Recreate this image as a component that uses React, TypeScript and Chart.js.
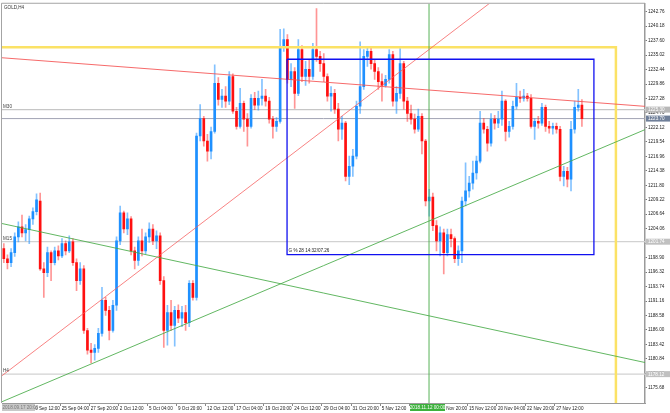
import React, { useEffect, useRef } from 'react';
import { Chart, registerables } from 'chart.js';

Chart.register(...registerables);

// ---- data (GOLD, H4; each candle below aggregates two H4 bars) ----
const opens = [
  1200.5, 1198.7, 1198.0, 1199.8, 1202.6, 1204.4, 1203.3, 1203.9, 1205.8, 1207.1,
  1209.0, 1196.9, 1196.2, 1199.8, 1198.0, 1200.1, 1199.2, 1201.4, 1200.1, 1201.7,
  1198.0, 1194.8, 1196.9, 1185.9, 1182.4, 1182.0, 1182.7, 1185.4, 1191.3, 1189.5,
  1185.9, 1190.4, 1201.9, 1206.9, 1204.0, 1205.8, 1200.1, 1198.4, 1201.9, 1200.1,
  1202.6, 1204.0, 1201.9, 1202.8, 1194.8, 1185.9, 1189.1, 1186.8, 1189.5, 1188.1,
  1189.1, 1187.3, 1194.3, 1191.8, 1220.6, 1223.7, 1219.7, 1217.9, 1221.4, 1230.0,
  1227.1, 1227.7, 1226.8, 1231.2, 1225.0, 1222.3, 1226.4, 1223.6, 1222.3, 1227.3,
  1226.1, 1227.3, 1227.7, 1226.8, 1223.6, 1222.3, 1223.2, 1236.5, 1237.8, 1230.7,
  1232.1, 1228.2, 1236.0, 1231.2, 1232.5, 1231.2, 1236.0, 1234.8, 1233.5, 1231.2,
  1227.7, 1228.2, 1225.4, 1221.8, 1222.9, 1213.4, 1215.2, 1217.0, 1225.9, 1229.4,
  1234.8, 1235.7, 1233.5, 1232.1, 1230.3, 1229.6, 1230.7, 1235.1, 1226.8, 1228.2,
  1233.5, 1226.8, 1224.6, 1223.6, 1221.8, 1224.1, 1219.7, 1209.0, 1209.7, 1204.6,
  1201.9, 1203.3, 1199.8, 1203.0, 1202.3, 1198.7, 1200.1, 1209.0, 1210.8, 1212.2,
  1214.0, 1216.1, 1222.9, 1221.8, 1219.3, 1223.6, 1222.9, 1223.6, 1226.8, 1221.4,
  1222.3, 1225.9, 1227.5, 1227.3, 1227.7, 1227.3, 1222.3, 1223.2, 1222.9, 1225.7,
  1222.3, 1222.0, 1222.3, 1221.8, 1213.4, 1214.3, 1212.9, 1221.8, 1225.7, 1226.1,
];
const highs = [
  1201.4, 1199.4, 1200.5, 1203.3, 1205.3, 1206.5, 1204.8, 1206.3, 1207.8, 1210.3,
  1210.4, 1198.0, 1200.8, 1200.1, 1200.8, 1201.0, 1202.3, 1201.9, 1202.8, 1202.3,
  1198.7, 1198.0, 1197.5, 1186.3, 1183.6, 1183.4, 1186.3, 1193.6, 1191.8, 1190.2,
  1191.3, 1202.6, 1208.1, 1207.2, 1206.9, 1206.2, 1200.8, 1202.6, 1204.0, 1203.3,
  1205.1, 1204.8, 1203.7, 1203.3, 1195.5, 1190.4, 1191.3, 1190.2, 1190.5, 1190.2,
  1190.4, 1194.8, 1194.8, 1221.1, 1226.2, 1224.1, 1220.9, 1222.2, 1233.3, 1231.0,
  1228.9, 1229.4, 1232.1, 1231.7, 1225.7, 1229.1, 1226.8, 1224.6, 1228.0, 1228.4,
  1228.6, 1230.7, 1228.9, 1227.5, 1224.1, 1223.9, 1239.6, 1239.7, 1238.7, 1233.5,
  1232.8, 1237.8, 1236.7, 1233.9, 1234.2, 1237.1, 1243.3, 1235.7, 1235.3, 1231.7,
  1229.4, 1228.9, 1226.4, 1224.1, 1223.2, 1217.0, 1218.2, 1226.8, 1237.4, 1236.0,
  1236.5, 1236.4, 1234.2, 1232.8, 1231.7, 1231.4, 1236.0, 1235.7, 1229.4, 1236.2,
  1233.9, 1227.5, 1226.1, 1224.5, 1225.4, 1224.6, 1220.0, 1211.1, 1210.4, 1205.5,
  1204.4, 1204.0, 1204.0, 1204.0, 1202.6, 1201.0, 1209.7, 1215.8, 1213.4, 1216.1,
  1217.0, 1225.0, 1223.7, 1222.3, 1224.6, 1224.3, 1225.0, 1228.6, 1227.1, 1223.2,
  1226.8, 1230.0, 1228.6, 1228.9, 1228.2, 1228.0, 1223.7, 1224.1, 1226.4, 1226.1,
  1223.2, 1222.9, 1222.9, 1222.3, 1215.2, 1215.0, 1223.2, 1226.8, 1228.9, 1227.1,
];
const lows = [
  1198.0, 1196.9, 1197.3, 1199.1, 1201.7, 1202.6, 1201.9, 1201.4, 1204.8, 1206.5,
  1196.6, 1191.8, 1195.5, 1194.8, 1197.6, 1198.5, 1198.9, 1199.4, 1199.8, 1197.5,
  1193.0, 1194.1, 1185.4, 1181.7, 1180.1, 1180.6, 1182.0, 1184.9, 1188.6, 1184.2,
  1185.6, 1189.5, 1201.2, 1203.3, 1203.0, 1199.4, 1196.9, 1197.5, 1199.2, 1199.6,
  1201.6, 1201.2, 1200.5, 1194.1, 1182.9, 1183.3, 1185.9, 1183.1, 1187.3, 1186.6,
  1185.9, 1186.6, 1191.3, 1191.3, 1219.7, 1218.8, 1216.1, 1216.5, 1221.1, 1226.1,
  1225.7, 1225.7, 1226.2, 1224.6, 1221.8, 1222.0, 1221.4, 1218.8, 1222.0, 1225.3,
  1225.2, 1226.1, 1225.9, 1222.9, 1220.2, 1221.4, 1222.9, 1235.7, 1230.0, 1229.4,
  1225.5, 1227.8, 1230.3, 1229.6, 1230.0, 1230.7, 1233.9, 1232.1, 1230.3, 1226.8,
  1225.0, 1224.6, 1219.7, 1220.0, 1212.6, 1211.9, 1213.4, 1216.5, 1224.6, 1228.9,
  1233.0, 1232.5, 1230.7, 1228.9, 1226.8, 1229.3, 1230.0, 1225.9, 1224.6, 1227.3,
  1225.4, 1223.2, 1222.7, 1221.1, 1221.4, 1217.4, 1208.1, 1206.3, 1203.7, 1200.1,
  1199.2, 1196.0, 1199.2, 1200.8, 1198.0, 1197.5, 1198.0, 1208.1, 1209.7, 1211.1,
  1212.9, 1215.8, 1221.1, 1217.9, 1218.8, 1221.8, 1222.1, 1222.5, 1219.7, 1220.4,
  1221.8, 1225.4, 1226.6, 1226.8, 1226.8, 1222.0, 1220.0, 1222.0, 1222.5, 1221.4,
  1221.1, 1220.9, 1221.1, 1212.6, 1211.7, 1211.5, 1210.8, 1221.1, 1225.0, 1222.3,
];
const closes = [
  1198.7, 1198.0, 1199.8, 1202.6, 1204.4, 1203.3, 1203.9, 1205.8, 1207.1, 1209.2,
  1196.9, 1196.2, 1199.8, 1198.0, 1200.1, 1199.2, 1201.4, 1200.1, 1201.7, 1198.0,
  1194.8, 1196.9, 1185.9, 1182.4, 1182.0, 1182.7, 1185.4, 1191.3, 1189.5, 1185.9,
  1190.4, 1201.9, 1206.9, 1204.0, 1205.8, 1200.1, 1198.4, 1201.9, 1200.1, 1202.6,
  1204.0, 1201.9, 1202.8, 1194.8, 1185.9, 1189.1, 1186.8, 1189.5, 1188.1, 1189.1,
  1187.3, 1194.3, 1191.8, 1220.6, 1223.7, 1219.7, 1217.9, 1221.4, 1230.0, 1227.1,
  1227.7, 1226.8, 1231.2, 1225.0, 1222.3, 1226.4, 1223.6, 1222.3, 1227.3, 1226.1,
  1227.3, 1227.7, 1226.8, 1223.6, 1222.3, 1223.2, 1236.5, 1237.8, 1230.7, 1232.1,
  1228.2, 1236.0, 1231.2, 1232.5, 1231.2, 1236.0, 1234.8, 1233.5, 1231.2, 1227.7,
  1228.2, 1225.4, 1221.8, 1222.9, 1213.4, 1215.2, 1217.0, 1225.9, 1229.4, 1234.8,
  1235.7, 1233.5, 1232.1, 1230.3, 1229.6, 1230.7, 1235.1, 1226.8, 1228.2, 1233.5,
  1226.8, 1224.6, 1223.6, 1221.8, 1224.1, 1219.7, 1209.0, 1209.7, 1204.6, 1201.9,
  1203.3, 1199.8, 1203.0, 1202.3, 1198.7, 1200.1, 1209.0, 1210.8, 1212.2, 1214.0,
  1216.1, 1222.9, 1221.8, 1219.3, 1223.6, 1222.9, 1223.6, 1226.8, 1221.4, 1222.3,
  1225.9, 1227.5, 1227.3, 1227.7, 1227.3, 1222.3, 1223.2, 1222.9, 1225.7, 1222.3,
  1222.0, 1222.3, 1221.8, 1213.4, 1214.3, 1212.9, 1221.8, 1225.7, 1226.1, 1223.7,
];
const BARS_PER_CANDLE = 2;

// time axis: one label every 16 H4 bars
const LABEL_EVERY = 16;
const timeLabels = [
  '20 Sep 12:00', '25 Sep 04:00', '27 Sep 20:00', '2 Oct 12:00', '5 Oct 04:00',
  '9 Oct 20:00', '12 Oct 12:00', '17 Oct 04:00', '19 Oct 20:00', '24 Oct 12:00',
  '29 Oct 04:00', '31 Oct 20:00', '5 Nov 12:00', '8 Nov 04:00', '12 Nov 20:00',
  '15 Nov 12:00', '20 Nov 04:00', '22 Nov 20:00', '27 Nov 12:00',
];
const VISIBLE_BARS = 353.7;
const firstBarLabel = '2018.09.17 20:00';
const cursorLabel = '2018.11.12 00:00';
const symbolTitle = 'GOLD,H4';

// price axis
const PRICE_MIN = 1172.97;
const PRICE_MAX = 1244.18;
const priceTicks = [
  1175.68, 1178.26, 1180.84, 1183.42, 1186.0, 1188.58, 1191.16, 1193.74, 1196.32,
  1198.9, 1201.48, 1204.06, 1206.64, 1209.22, 1211.8, 1214.38, 1216.96, 1219.54,
  1222.12, 1224.7, 1227.28, 1229.86, 1232.44, 1235.02, 1237.6, 1240.18, 1242.76,
];

// horizontal levels
const levelPrices = [1225.3, 1223.7, 1201.74, 1178.12];
const levelNames = ['M30', '', 'M15', 'H4'];
const levelLineColors = ['#c6c6c6', '#a2a4b4', '#d2d2d2', '#d2d2d2'];
const levelBoxColors = ['#b8b8b8', '#6f7f99', '#c0c0c0', '#c0c0c0'];

// drawn objects, [bar, price]
const redFlatLine = [[0, 1234.55], [353.7, 1225.88]];
const redSteepLine = [[0, 1177.84], [284.9, 1248.4]];
const greenUpLine = [[0, 1173.2], [353.7, 1221.73]];
const greenDownLine = [[0, 1204.98], [353.7, 1180.19]];
const greenVertical = [[234.9, 1150], [234.9, 1260]];
const yellowFrame = [[-5, 1236.41], [337.7, 1236.41], [337.7, 1150]];
const blueBox = [[156.8, 1234.28], [325.6, 1234.28], [325.6, 1199.42], [156.8, 1199.42], [156.8, 1234.28]];
const blueBoxText = 'G % 28 14:32/07.26';

const FONT = '"Liberation Sans", Arial, sans-serif';
const FS = 4.6;

export default function App() {
  const ref = useRef<HTMLCanvasElement | null>(null);

  useEffect(() => {
    const canvas = ref.current;
    if (!canvas) return;

    const candleX = opens.map((_, k) => k * BARS_PER_CANDLE + BARS_PER_CANDLE / 2);
    const isUp = closes.map((c, k) => c >= opens[k]);

    const lineDs = (pts: number[][], color: string, width: number, order: number) => ({
      type: 'line' as const,
      data: pts.map(([x, y]) => ({ x, y })),
      borderColor: color,
      borderWidth: width,
      pointRadius: 0,
      pointHoverRadius: 0,
      fill: false,
      tension: 0,
      order,
    });

    const overlay = {
      id: 'overlay',
      afterDraw(chart: any) {
        const { ctx, chartArea: a, scales } = chart;
        const x = scales.x;
        const y = scales.y;
        ctx.save();
        // frame top / left
        ctx.strokeStyle = '#a4a4a4';
        ctx.lineWidth = 1;
        ctx.beginPath();
        ctx.moveTo(a.left - 0.5, a.bottom);
        ctx.lineTo(a.left - 0.5, a.top - 0.5);
        ctx.lineTo(a.right, a.top - 0.5);
        ctx.stroke();

        ctx.font = `${FS}px ${FONT}`;
        ctx.textBaseline = 'middle';
        ctx.textAlign = 'left';
        ctx.fillStyle = '#333';
        ctx.fillText(symbolTitle, a.left + 2, a.top + 4);

        levelPrices.forEach((p, i) => {
          const yy = y.getPixelForValue(p);
          if (levelNames[i]) {
            ctx.fillStyle = '#444';
            ctx.fillText(levelNames[i], a.left + 1, yy - 3.2);
          }
          ctx.fillStyle = levelBoxColors[i];
          ctx.fillRect(a.right + 1, yy - 3, 24, 6);
          ctx.fillStyle = '#ffffff';
          ctx.fillText(p.toFixed(2), a.right + 3, yy + 0.3);
        });

        // text inside blue box
        ctx.fillStyle = '#222';
        ctx.fillText(blueBoxText, x.getPixelForValue(blueBox[0][0]) + 1.5, y.getPixelForValue(blueBox[2][1]) - 3.5);

        // first bar date box
        ctx.fillStyle = '#c8c8c8';
        ctx.fillRect(a.left, a.bottom + 1, 33, 7);
        ctx.fillStyle = '#7a7a7a';
        ctx.fillText(firstBarLabel, a.left + 0.5, a.bottom + 4.6);

        // vertical line date box
        const vx = x.getPixelForValue(greenVertical[0][0]);
        ctx.fillStyle = '#3cb13c';
        ctx.fillRect(vx - 19, a.bottom + 1, 35, 7);
        ctx.fillStyle = '#ffffff';
        ctx.textAlign = 'center';
        ctx.fillText(cursorLabel, vx - 1.5, a.bottom + 4.6);
        ctx.restore();
      },
    };

    const chart = new Chart(canvas, {
      type: 'bar',
      data: {
        datasets: [
          ...levelPrices.map((p, i) => lineDs([[0, p], [VISIBLE_BARS, p]], levelLineColors[i], i === 1 ? 1 : 1.3, 9)),
          {
            type: 'bar' as const,
            data: candleX.map((x, k) => ({ x, y: [lows[k], highs[k]] })),
            backgroundColor: isUp.map((u) => (u ? 'rgba(30,144,255,0.55)' : 'rgba(255,20,20,0.45)')),
            barThickness: 1,
            grouped: false,
            order: 8,
          } as any,
          {
            type: 'bar' as const,
            data: candleX.map((x, k) => ({ x, y: [opens[k], closes[k]] })),
            backgroundColor: isUp.map((u) => (u ? '#1e90ff' : '#ff1010')),
            barThickness: 2,
            minBarLength: 1,
            grouped: false,
            order: 7,
          } as any,
          lineDs(redFlatLine, 'rgba(245,80,80,0.85)', 1, 2),
          lineDs(redSteepLine, 'rgba(245,90,90,0.75)', 1, 2),
          lineDs(greenUpLine, 'rgba(70,170,70,0.85)', 1, 2),
          lineDs(greenDownLine, 'rgba(70,170,70,0.85)', 1, 2),
          lineDs(greenVertical, 'rgba(70,170,70,0.9)', 1, 2),
          lineDs(yellowFrame, '#fbe266', 2.5, 3),
          lineDs(blueBox, '#1010f0', 1.3, 1),
        ] as any,
      },
      options: {
        responsive: false,
        animation: false,
        devicePixelRatio: 1,
        events: [],
        layout: { padding: { left: 2, top: 2, right: 0, bottom: 0 } },
        plugins: { legend: { display: false }, tooltip: { enabled: false } },
        scales: {
          x: {
            type: 'linear',
            min: 0,
            max: VISIBLE_BARS,
            offset: false,
            grid: { display: true, drawOnChartArea: false, drawTicks: true, tickLength: 3, color: '#888', offset: false },
            border: { display: true, color: '#9a9a9a', width: 1 },
            afterBuildTicks: (s: any) => {
              s.ticks = timeLabels.map((_, i) => ({ value: (i + 1) * LABEL_EVERY }));
            },
            afterFit: (s: any) => {
              s.height = 10;
            },
            ticks: {
              autoSkip: false,
              maxRotation: 0,
              minRotation: 0,
              align: 'start',
              labelOffset: 1.5,
              padding: -0.5,
              color: '#222',
              font: { family: FONT, size: FS },
              callback: (_v: any, i: number) => timeLabels[i],
            },
          },
          y: {
            type: 'linear',
            position: 'right',
            min: PRICE_MIN,
            max: PRICE_MAX,
            grid: { display: true, drawOnChartArea: false, drawTicks: true, tickLength: 2, color: '#777' },
            border: { display: true, color: '#9a9a9a', width: 1.5 },
            afterBuildTicks: (s: any) => {
              s.ticks = priceTicks.map((v) => ({ value: v }));
            },
            afterFit: (s: any) => {
              s.width = 25;
            },
            ticks: {
              autoSkip: false,
              padding: 1,
              color: '#222',
              font: { family: FONT, size: FS },
              callback: (v: any) => Number(v).toFixed(2),
            },
          },
        },
      } as any,
      plugins: [overlay],
    });

    return () => chart.destroy();
  }, []);

  return (
    <div style={{ position: 'fixed', left: 0, top: 0, width: 670, height: 413, background: '#fff' }}>
      <canvas ref={ref} width={670} height={413} style={{ display: 'block' }} />
    </div>
  );
}
